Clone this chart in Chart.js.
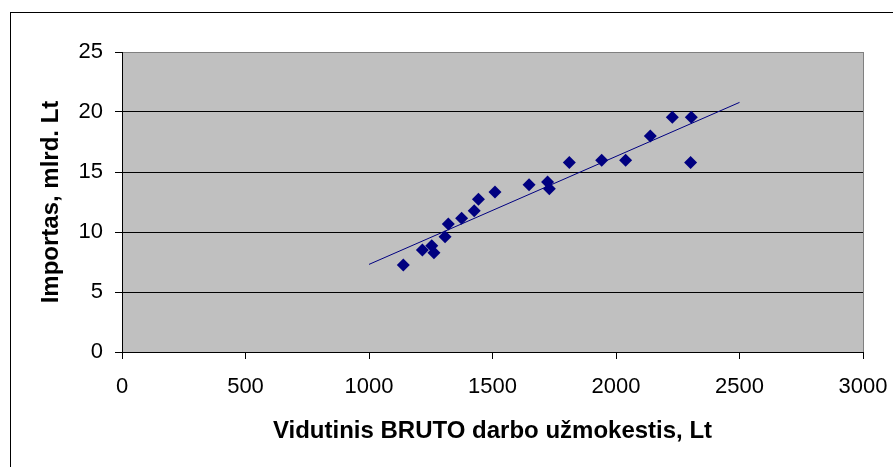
<!DOCTYPE html>
<html>
<head>
<meta charset="utf-8">
<script src="https://cdn.jsdelivr.net/npm/chart.js@4/dist/chart.umd.min.js"></script>
<style>
  html, body { margin: 0; padding: 0; background: #fff; }
  #wrap { width: 893px; height: 467px; }
</style>
</head>
<body>
<div id="wrap"><canvas id="scatter-widget" width="893" height="467"></canvas></div>
<script>
// wage (Lt) vs import (mlrd. Lt)
const wages = [1139, 1216, 1254, 1263, 1308, 1321, 1375, 1426, 1443, 1510, 1648, 1723, 1730, 1811, 1942, 2039, 2139, 2228, 2305, 2302];
const imports = [7.25, 8.5, 8.86, 8.28, 9.6, 10.67, 11.14, 11.78, 12.72, 13.33, 13.94, 14.17, 13.61, 15.8, 15.97, 15.97, 18.0, 19.56, 19.56, 15.8];

// linear trend line end points
const trendX = [1000, 2500];
const trendY = [7.3, 20.8];

const xTicks = [0, 500, 1000, 1500, 2000, 2500, 3000];
const yTicks = [0, 5, 10, 15, 20, 25];

const tickFont = { family: "'Liberation Sans', Arial, sans-serif", size: 22 };
const titleFont = { family: "'Liberation Sans', Arial, sans-serif", size: 24, weight: 'bold' };

// gray plot area + frames
const plotBack = {
    id: 'plotBack',
    beforeDraw(chart) {
        const { ctx, chartArea: a } = chart;
        ctx.save();
        ctx.fillStyle = '#ffffff';
        ctx.fillRect(0, 0, chart.width, chart.height);
        ctx.fillStyle = '#c0c0c0';
        ctx.fillRect(a.left, a.top, a.right - a.left, a.bottom - a.top);
        ctx.strokeStyle = '#000000';
        ctx.lineWidth = 1;
        ctx.strokeRect(10.5, 12.5, chart.width, chart.height);
        ctx.restore();
    },
    beforeDatasetsDraw(chart) {
        const { ctx, chartArea: a } = chart;
        ctx.save();
        ctx.strokeStyle = '#808080';
        ctx.lineWidth = 1;
        ctx.beginPath();
        ctx.moveTo(Math.round(a.right) + 0.5, a.top);
        ctx.lineTo(Math.round(a.right) + 0.5, a.bottom);
        ctx.stroke();
        ctx.restore();
    }
};

const ctx = document.getElementById('scatter-widget').getContext('2d');

const chart = new Chart(ctx, {
    type: 'scatter',
    data: {
        datasets: [{
            label: 'Importas',
            data: wages.map((w, i) => ({ x: w, y: imports[i] })),
            pointStyle: 'rectRot',
            pointRadius: 6.5,
            pointHoverRadius: 6.5,
            backgroundColor: '#000080',
            borderColor: '#000080',
            borderWidth: 0,
            order: 1
        }, {
            label: 'Trend',
            data: trendX.map((x, i) => ({ x: x, y: trendY[i] })),
            showLine: true,
            pointRadius: 0,
            borderColor: '#000080',
            borderWidth: 1,
            order: 2
        }]
    },
    options: {
        responsive: false,
        animation: false,
        events: [],
        layout: { padding: { left: 10, right: 30, top: 52, bottom: 0 } },
        plugins: {
            legend: { display: false },
            tooltip: { enabled: false }
        },
        scales: {
            x: {
                type: 'linear',
                min: 0,
                max: 3000,
                afterBuildTicks: (s) => { s.ticks = xTicks.map(v => ({ value: v })); },
                afterFit: (s) => { s.height = 115; s.paddingLeft = 0; s.paddingRight = 0; },
                ticks: { font: tickFont, color: '#000', padding: 15, maxRotation: 0, callback: (v) => String(v) },
                grid: { drawOnChartArea: false, tickLength: 7, tickColor: '#000' },
                border: { color: '#000', width: 1 },
                title: {
                    display: true,
                    text: 'Vidutinis BRUTO darbo užmokestis, Lt',
                    font: titleFont,
                    color: '#000',
                    padding: { top: 0, bottom: 21 }
                }
            },
            y: {
                type: 'linear',
                min: 0,
                max: 25,
                afterBuildTicks: (s) => { s.ticks = yTicks.map(v => ({ value: v })); },
                afterFit: (s) => { s.width = 112; s.paddingTop = 0; s.paddingBottom = 0; },
                ticks: { font: tickFont, color: '#000', padding: 12, callback: (v) => String(v) },
                grid: {
                    color: (c) => (c.tick && c.tick.value === 25 ? '#808080' : '#000000'),
                    tickLength: 7,
                    tickColor: '#000'
                },
                border: { color: '#000', width: 1 },
                title: {
                    display: true,
                    text: 'Importas, mlrd. Lt',
                    font: titleFont,
                    color: '#000',
                    padding: { top: 27, bottom: 0 }
                }
            }
        }
    },
    plugins: [plotBack]
});
</script>
</body>
</html>
